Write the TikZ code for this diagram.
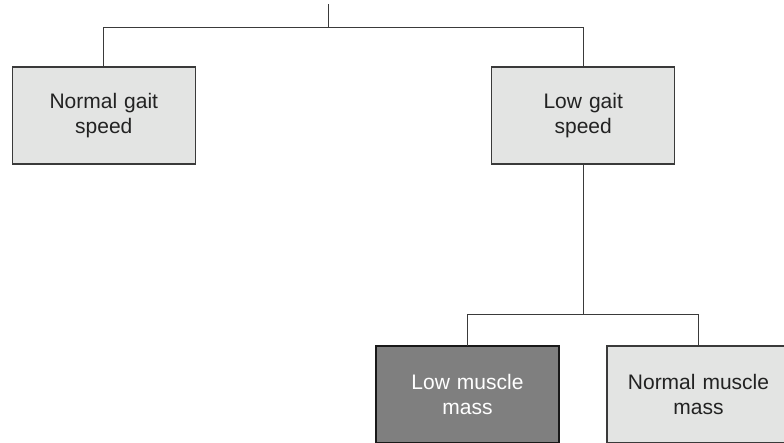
\documentclass[tikz,border=0pt]{standalone}
\usepackage{fontspec}
\setmainfont{Liberation Sans}
\definecolor{boxfill}{HTML}{E3E4E3}
\definecolor{darkfill}{HTML}{7F7F7F}
\definecolor{linecol}{HTML}{3A3A3A}
\definecolor{textcol}{HTML}{222222}
\begin{document}
\begin{tikzpicture}[x=1pt,y=-1pt,
  every node/.style={inner sep=0pt,outer sep=0pt},
  box/.style={draw=linecol,line width=1.4pt,fill=boxfill,minimum width=183pt,minimum height=97pt,
    text width=175pt,align=center,text=textcol,font=\fontsize{21}{25}\selectfont},
  darkbox/.style={box,fill=darkfill,draw=black!90,line width=2pt,text=white},
  conn/.style={draw=linecol,line width=1.3pt}]
\useasboundingbox (0,0) rectangle (784,442);
\clip (0,0) rectangle (784,442);
\node[box] (n1) at (103.8,115.5) {Normal gait\\speed};
\node[box] (n2) at (583.2,115.5) {Low gait\\speed};
\node[darkbox] (n3) at (467.5,394.5) {Low muscle\\mass};
\node[box] (n4) at (698.5,394.5) {Normal muscle\\mass};
\coordinate (top) at (328.7,4);
\coordinate (j1) at (328.7,27.3);
\coordinate (j2) at (583.2,314.5);
\draw[conn] (top) -- (j1);
\draw[conn] (n1.north) |- (j1) -| (n2.north);
\draw[conn] (n2.south) -- (j2);
\draw[conn] (n3.north) |- (j2) -| (n4.north);
\end{tikzpicture}
\end{document}
